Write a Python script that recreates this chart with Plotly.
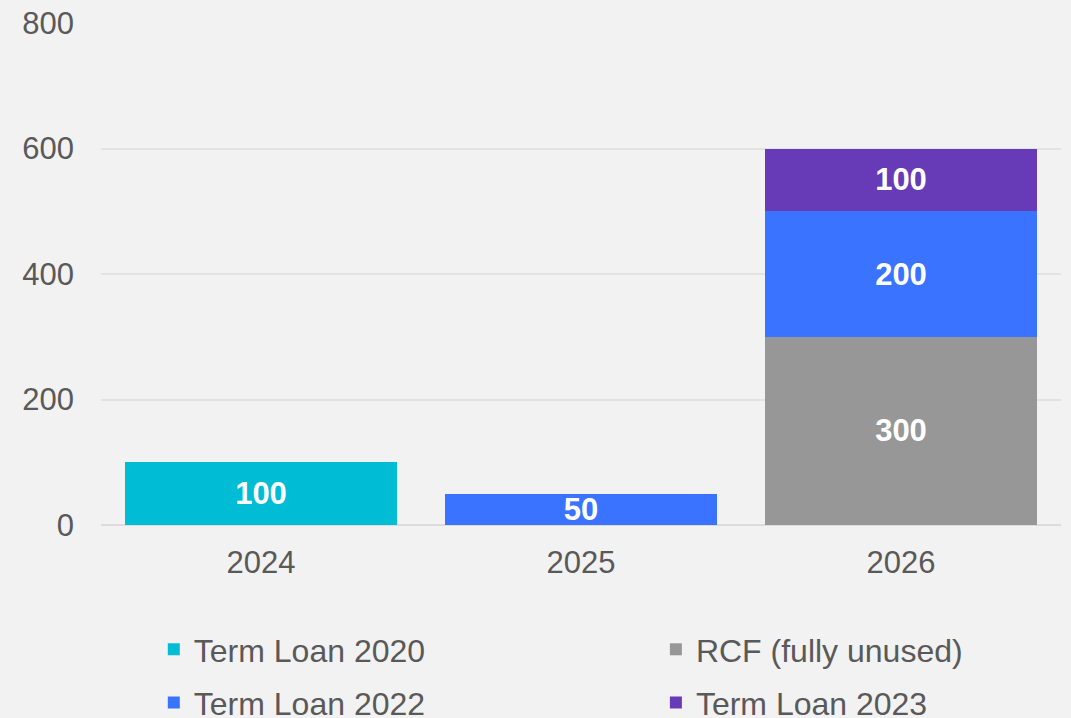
import plotly.graph_objects as go

# Fälligkeiten der Finanzierung (Mio.)
years = ["2024", "2025", "2026"]
term_loan_2020 = [100, None, None]
rcf_unused = [None, None, 300]
term_loan_2022 = [None, 50, 200]
term_loan_2023 = [None, None, 100]

font_family = "Liberation Sans, Arial, sans-serif"
text_grey = "#595959"

fig = go.Figure()

# order of traces = stacking order in 2026 (RCF at the bottom)
series = [
    ("Term Loan 2020", term_loan_2020, "#00BCD4", "legend"),
    ("RCF (fully unused)", rcf_unused, "#979797", "legend2"),
    ("Term Loan 2022", term_loan_2022, "#3A73FF", "legend3"),
    ("Term Loan 2023", term_loan_2023, "#673AB7", "legend4"),
]
for name, vals, col, leg in series:
    fig.add_trace(go.Bar(
        x=years, y=vals, name=name,
        marker=dict(color=col, line=dict(width=0)),
        texttemplate="%{y}", textposition="inside", textangle=0,
        insidetextanchor="middle", constraintext="none",
        textfont=dict(family=font_family, size=31, color="white", weight="bold"),
        legend=leg,
    ))

def legend_at(x, y):
    return dict(
        orientation="h", xanchor="left", yanchor="middle", x=x, y=y,
        font=dict(family=font_family, size=32, color=text_grey),
        bgcolor="rgba(0,0,0,0)",
    )

row1, row2 = -0.248, -0.354
col1, col2 = 0.055, 0.578

fig.update_layout(
    barmode="stack",
    bargap=0.153,
    width=1071, height=718,
    margin=dict(l=101, r=10, t=23, b=193, autoexpand=False),
    paper_bgcolor="#F2F2F2",
    plot_bgcolor="#F2F2F2",
    font=dict(family=font_family, size=31, color=text_grey),
    showlegend=True,
    legend=legend_at(col1, row1),
    legend2=legend_at(col2, row1),
    legend3=legend_at(col1, row2),
    legend4=legend_at(col2, row2),
    xaxis=dict(showgrid=False, showline=False, ticks="outside", ticklen=10,
               tickcolor="rgba(0,0,0,0)", tickfont=dict(size=31, color=text_grey)),
    yaxis=dict(range=[0, 800], tickvals=[0, 200, 400, 600, 800],
               gridcolor="#E2E2E2", gridwidth=2, zeroline=True,
               zerolinecolor="#DCDCDC", zerolinewidth=2,
               showline=False, ticklabelstandoff=26,
               tickfont=dict(size=31, color=text_grey)),
)

fig.write_html(
    "out.html",
    config={"displayModeBar": False},
    post_script="document.body.style.margin='0';document.body.style.overflow='hidden';",
)
